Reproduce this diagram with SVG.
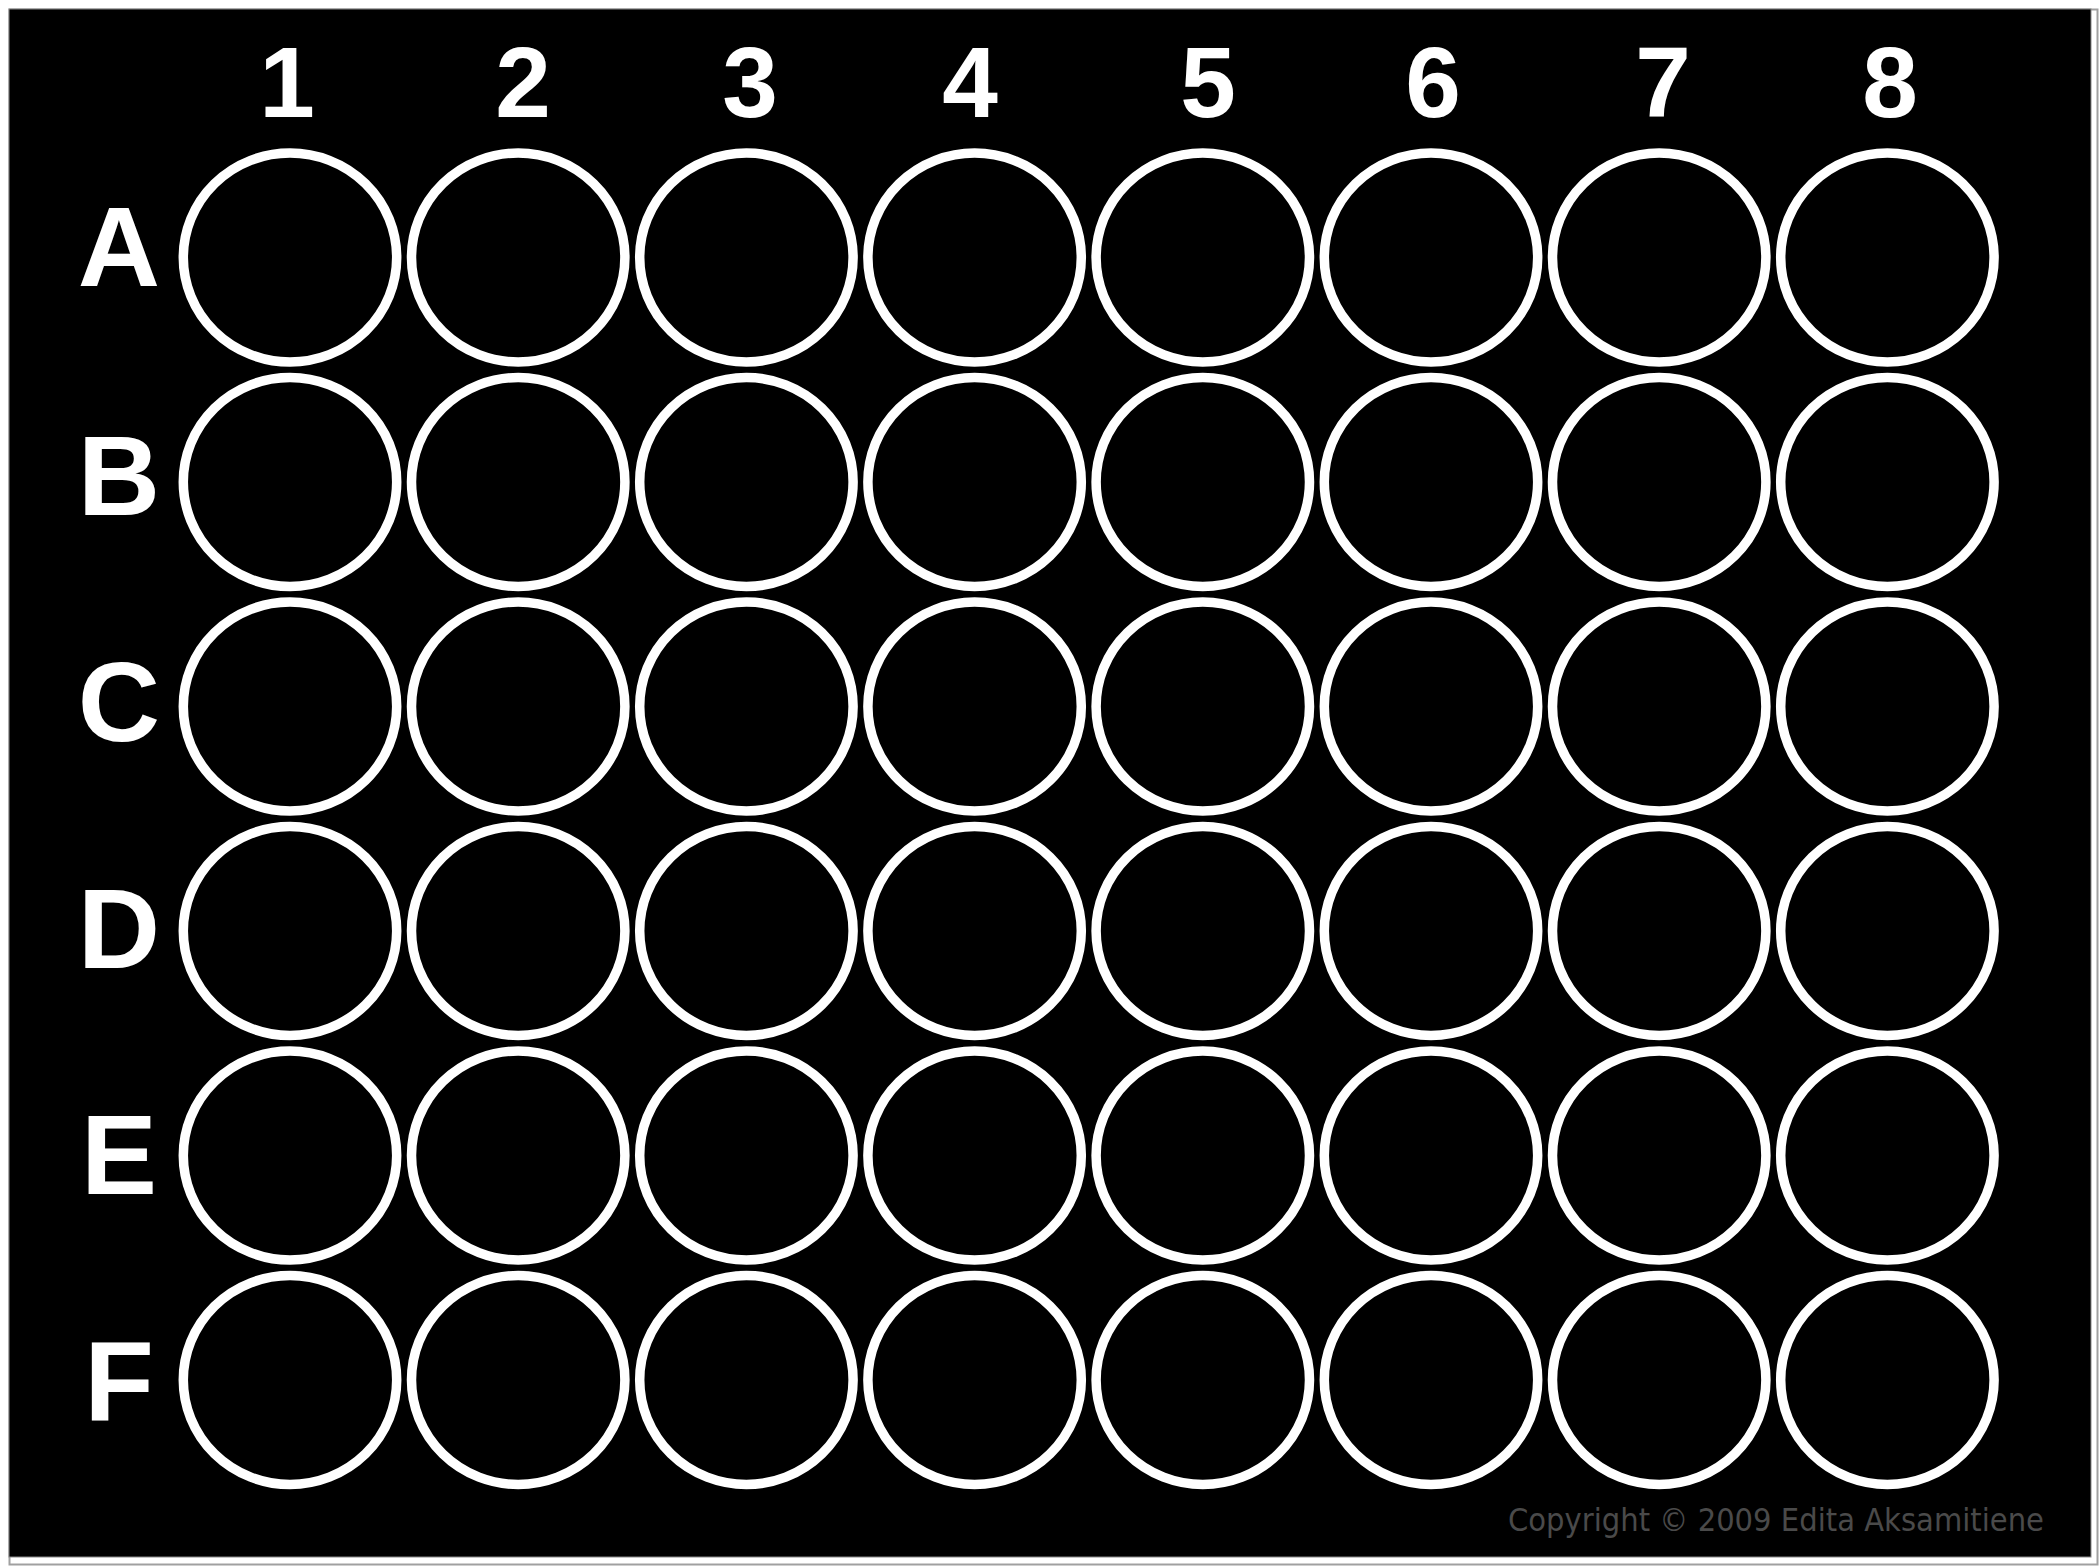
<svg xmlns="http://www.w3.org/2000/svg" width="2100" height="1567" viewBox="0 0 2100 1567">
<defs>
<style>
.well{fill:none;stroke:#ffffff;stroke-width:9.5}
.col{font-family:"Liberation Sans",Arial,sans-serif;font-weight:bold;font-size:100px;fill:#ffffff;text-anchor:middle}
.row{font-family:"Liberation Sans",Arial,sans-serif;font-weight:bold;font-size:114px;fill:#ffffff;text-anchor:middle}
.copy{font-family:"DejaVu Sans",Verdana,sans-serif;font-size:32px;fill:#4a4a4a}
</style>
<ellipse id="w" class="well" cx="0" cy="0" rx="106.7" ry="104.5"/>
</defs>
<rect x="0" y="0" width="2100" height="1567" fill="#ffffff"/>
<rect x="9.5" y="9.5" width="2088" height="1555" fill="none" stroke="#a0a0a0" stroke-width="2"/>
<rect id="plate" x="9" y="9" width="2082" height="1548" fill="#000000" stroke="#888888" stroke-width="1"/>
<g id="column-labels">
<text class="col" x="287" y="117">1</text>
<text class="col" x="523" y="117">2</text>
<text class="col" x="750" y="117">3</text>
<text class="col" x="970" y="117">4</text>
<text class="col" x="1208" y="117">5</text>
<text class="col" x="1433" y="117">6</text>
<text class="col" x="1663" y="117">7</text>
<text class="col" x="1890" y="117">8</text>
</g>
<g id="row-labels">
<text class="row" x="119" y="286">A</text>
<text class="row" x="119" y="515">B</text>
<text class="row" x="119" y="741">C</text>
<text class="row" x="119" y="968">D</text>
<text class="row" x="119" y="1194">E</text>
<text class="row" x="119" y="1421">F</text>
</g>
<g id="wells">
<g id="row-A">
<use href="#w" x="290" y="257.5"/><use href="#w" x="518.2" y="257.5"/><use href="#w" x="746.4" y="257.5"/><use href="#w" x="974.6" y="257.5"/><use href="#w" x="1202.8" y="257.5"/><use href="#w" x="1431" y="257.5"/><use href="#w" x="1659.2" y="257.5"/><use href="#w" x="1887.4" y="257.5"/>
</g>
<g id="row-B">
<use href="#w" x="290" y="482"/><use href="#w" x="518.2" y="482"/><use href="#w" x="746.4" y="482"/><use href="#w" x="974.6" y="482"/><use href="#w" x="1202.8" y="482"/><use href="#w" x="1431" y="482"/><use href="#w" x="1659.2" y="482"/><use href="#w" x="1887.4" y="482"/>
</g>
<g id="row-C">
<use href="#w" x="290" y="706.5"/><use href="#w" x="518.2" y="706.5"/><use href="#w" x="746.4" y="706.5"/><use href="#w" x="974.6" y="706.5"/><use href="#w" x="1202.8" y="706.5"/><use href="#w" x="1431" y="706.5"/><use href="#w" x="1659.2" y="706.5"/><use href="#w" x="1887.4" y="706.5"/>
</g>
<g id="row-D">
<use href="#w" x="290" y="931"/><use href="#w" x="518.2" y="931"/><use href="#w" x="746.4" y="931"/><use href="#w" x="974.6" y="931"/><use href="#w" x="1202.8" y="931"/><use href="#w" x="1431" y="931"/><use href="#w" x="1659.2" y="931"/><use href="#w" x="1887.4" y="931"/>
</g>
<g id="row-E">
<use href="#w" x="290" y="1155.5"/><use href="#w" x="518.2" y="1155.5"/><use href="#w" x="746.4" y="1155.5"/><use href="#w" x="974.6" y="1155.5"/><use href="#w" x="1202.8" y="1155.5"/><use href="#w" x="1431" y="1155.5"/><use href="#w" x="1659.2" y="1155.5"/><use href="#w" x="1887.4" y="1155.5"/>
</g>
<g id="row-F">
<use href="#w" x="290" y="1380"/><use href="#w" x="518.2" y="1380"/><use href="#w" x="746.4" y="1380"/><use href="#w" x="974.6" y="1380"/><use href="#w" x="1202.8" y="1380"/><use href="#w" x="1431" y="1380"/><use href="#w" x="1659.2" y="1380"/><use href="#w" x="1887.4" y="1380"/>
</g>
</g>
<text class="copy" x="1508" y="1531" textLength="536" lengthAdjust="spacingAndGlyphs">Copyright © 2009 Edita Aksamitiene</text>
</svg>
